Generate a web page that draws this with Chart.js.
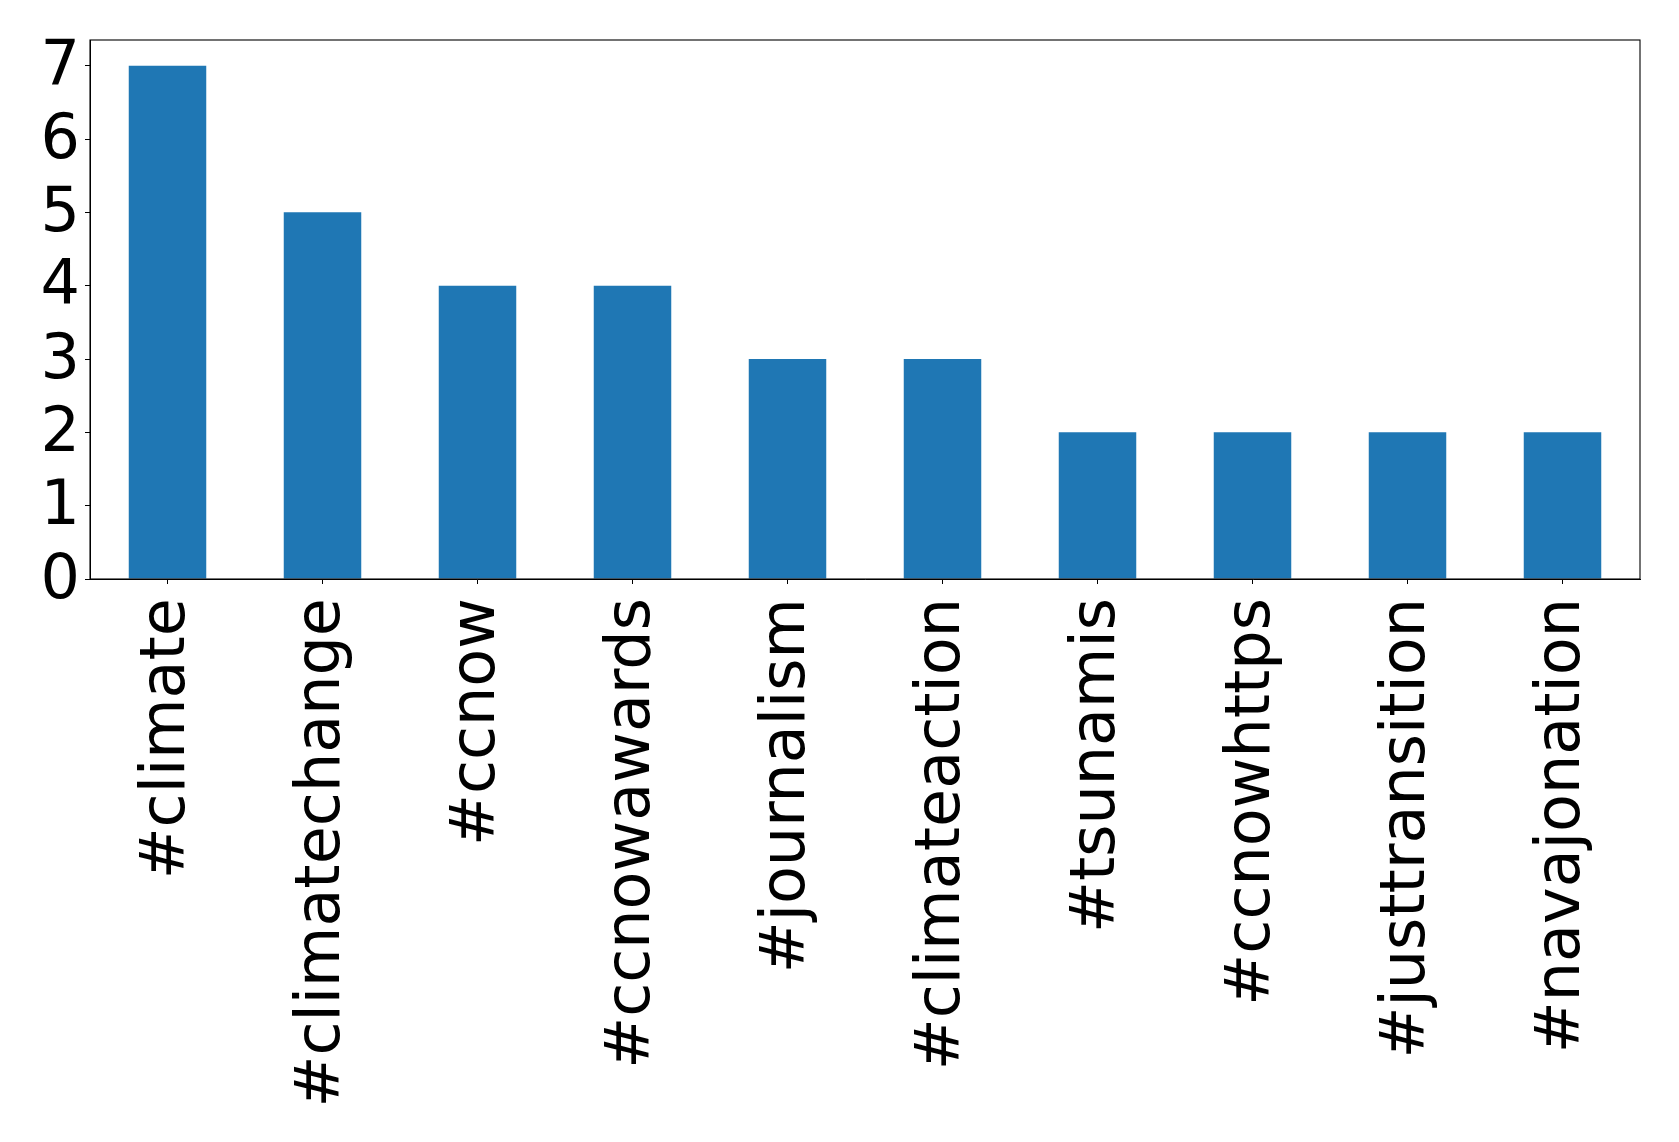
<!DOCTYPE html>
<html>
<head>
<meta charset="utf-8">
<script src="https://cdn.jsdelivr.net/npm/chart.js@4"></script>
<style>
  body { margin: 0; background: #fff; }
  #wrap { width: 1679px; height: 1142px; }
</style>
</head>
<body>
<div id="wrap"><canvas id="chart"></canvas></div>
<script>
// Hashtag counts
const hashtags = ["#climate", "#climatechange", "#ccnow", "#ccnowawards", "#journalism",
  "#climateaction", "#tsunamis", "#ccnowhttps", "#justtransition", "#navajonation"];
const counts = [7, 5, 4, 4, 3, 3, 2, 2, 2, 2];
const yTicks = [0, 1, 2, 3, 4, 5, 6, 7];

Chart.defaults.font.family = "'DejaVu Sans', sans-serif";
Chart.defaults.color = "#000";

// Draw the full box round the plot area, like matplotlib spines
const frame = {
  id: "frame",
  afterDraw(chart) {
    const a = chart.chartArea;
    const ctx = chart.ctx;
    ctx.save();
    ctx.strokeStyle = "#000";
    ctx.lineWidth = 1.1;
    ctx.strokeRect(a.left, a.top, a.right - a.left, a.bottom - a.top);
    ctx.restore();
  }
};

new Chart(document.getElementById("chart"), {
  type: "bar",
  data: {
    labels: hashtags,
    datasets: [{
      data: counts,
      backgroundColor: "#1f77b4",
      barPercentage: 0.5,
      categoryPercentage: 1.0
    }]
  },
  options: {
    responsive: true,
    maintainAspectRatio: false,
    animation: false,
    layout: { padding: { top: 40, right: 39, left: 0, bottom: 0 } },
    plugins: { legend: { display: false }, tooltip: { enabled: false } },
    scales: {
      x: {
        offset: true,
        grid: { display: true, drawOnChartArea: false, tickLength: 5, color: "#000", offset: false },
        border: { display: true, color: "#000" },
        ticks: {
          autoSkip: false,
          maxRotation: 90,
          minRotation: 90,
          padding: 14,
          font: { size: 62 }
        },
        afterFit(scale) { scale.height = 563; }
      },
      y: {
        min: 0,
        max: 7.35,
        grid: { display: true, drawOnChartArea: false, tickLength: 5, color: "#000" },
        border: { display: true, color: "#000" },
        ticks: {
          stepSize: 1,
          padding: 5,
          font: { size: 62, lineHeight: "5px" },
          // empty first line nudges the digit a few px down, as in the original
          callback: v => ["", String(v)]
        },
        afterBuildTicks(scale) {
          scale.ticks = yTicks.map(v => ({ value: v }));
        },
        afterFit(scale) { scale.width = 90; }
      }
    }
  },
  plugins: [frame]
});
</script>
</body>
</html>
